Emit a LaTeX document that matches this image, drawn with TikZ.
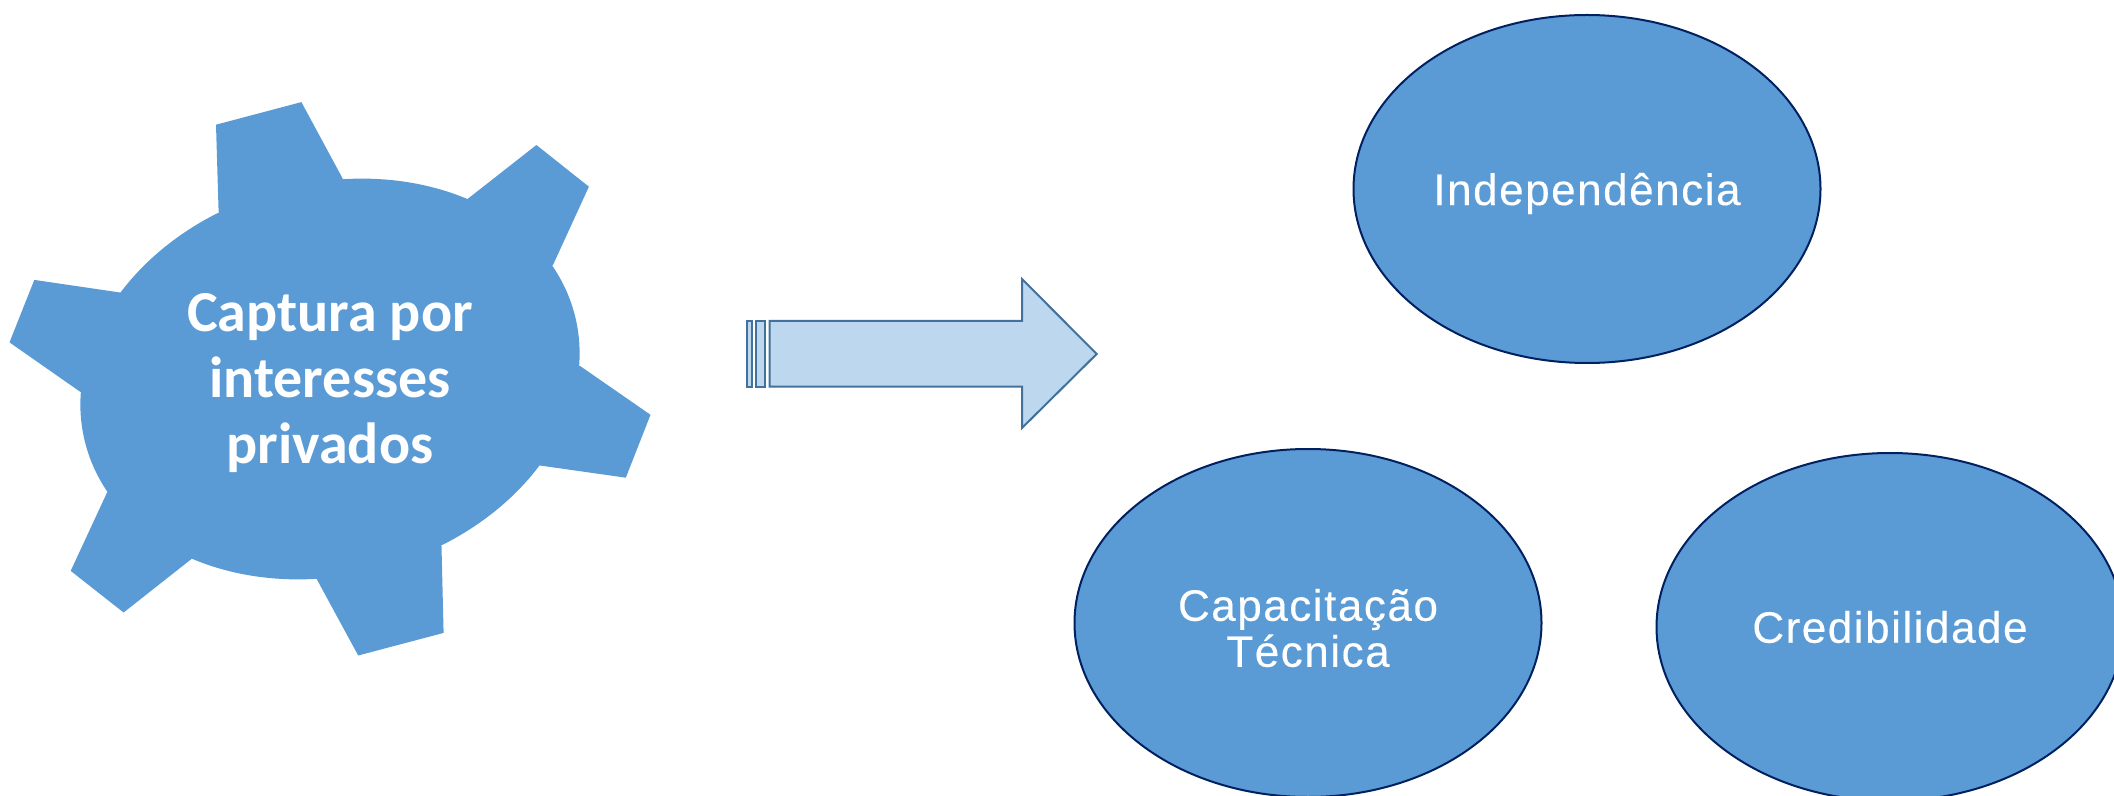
\documentclass[tikz,border=0pt]{standalone}
\usepackage{xcolor}
\usepackage{fontspec}
\usepackage{tikz}
\usetikzlibrary{shapes,positioning}
\setmainfont{Liberation Sans}
\newfontfamily\gearfont{Carlito}
\newfontfamily\ovalfont{Liberation Sans}[LetterSpace=3.5,FakeBold=0.25]
\definecolor{shapeBlue}{HTML}{5B9BD5}
\definecolor{ovalEdge}{HTML}{002060}
\definecolor{arrowFill}{HTML}{BDD7EE}
\definecolor{arrowEdge}{HTML}{41719C}
\tikzset{
  gearBody/.style={
    ellipse,
    fill=shapeBlue,
    rotate=15,
    inner sep=0pt,
    minimum width=253pt,
    minimum height=196pt
  },
  gearText/.style={
    text=white,
    align=center,
    font=\gearfont\bfseries\fontsize{29pt}{33pt}\selectfont
  },
  valueOval/.style={
    ellipse,
    draw=ovalEdge,
    line width=1pt,
    fill=shapeBlue,
    text=white,
    minimum width=233.5pt,
    minimum height=174pt,
    inner sep=0pt,
    align=center,
    font=\ovalfont\fontsize{22pt}{23pt}\selectfont
  },
  arrowPart/.style={
    draw=arrowEdge,
    fill=arrowFill,
    line width=1pt
  }
}
\begin{document}
\begin{tikzpicture}[x=0.5pt,y=-0.5pt]
        \clip (0,0) rectangle (2114,796);

        % gear
        \node[gearBody] (gear) at (330,379) {};
        \fill[shapeBlue] (218.6,211.4) -- (216,124.7) -- (301.4,102.1) -- (342.6,178.4) -- (gear.center) -- cycle;
        \fill[shapeBlue] (468.3,198.4) -- (536.4,145) -- (588.9,186.7) -- (552.9,265.2) -- (gear.center) -- cycle;
        \fill[shapeBlue] (579.8,365.8) -- (650.5,414.8) -- (625.8,477.7) -- (539.9,465.5) -- (gear.center) -- cycle;
        \fill[shapeBlue] (441.5,546.2) -- (443.6,632.9) -- (358.2,655.5) -- (317,579.6) -- (gear.center) -- cycle;
        \fill[shapeBlue] (191.2,559.2) -- (123.6,612.5) -- (70.7,570.9) -- (107.1,492.4) -- (gear.center) -- cycle;
        \fill[shapeBlue] (80.2,391.8) -- (9.5,342.4) -- (34.3,279.9) -- (120.1,292.5) -- (gear.center) -- cycle;
        \node[gearText] (capture) at (330,383) {Captura por\\interesses\\privados};

        % arrow
        \path[arrowPart] (746.7,321) rectangle (751.7,386.7);
        \path[arrowPart] (755.7,321) rectangle (765.3,386.7);
        \path[arrowPart] (769.7,321) -- (1022,321) -- (1022,279) -- (1096.7,354)
            -- (1022,428) -- (1022,386.7) -- (769.7,386.7) -- cycle;

        \node[valueOval, text depth=0pt] (independence) at (1587,189) {Independência};
        \node[valueOval] (training) at (1308,623) {\rule{0pt}{21pt}Capacitação\\Técnica};
        \node[valueOval] (credibility) at (1890,627) {Credibilidade};
    \end{tikzpicture}
\end{document}
